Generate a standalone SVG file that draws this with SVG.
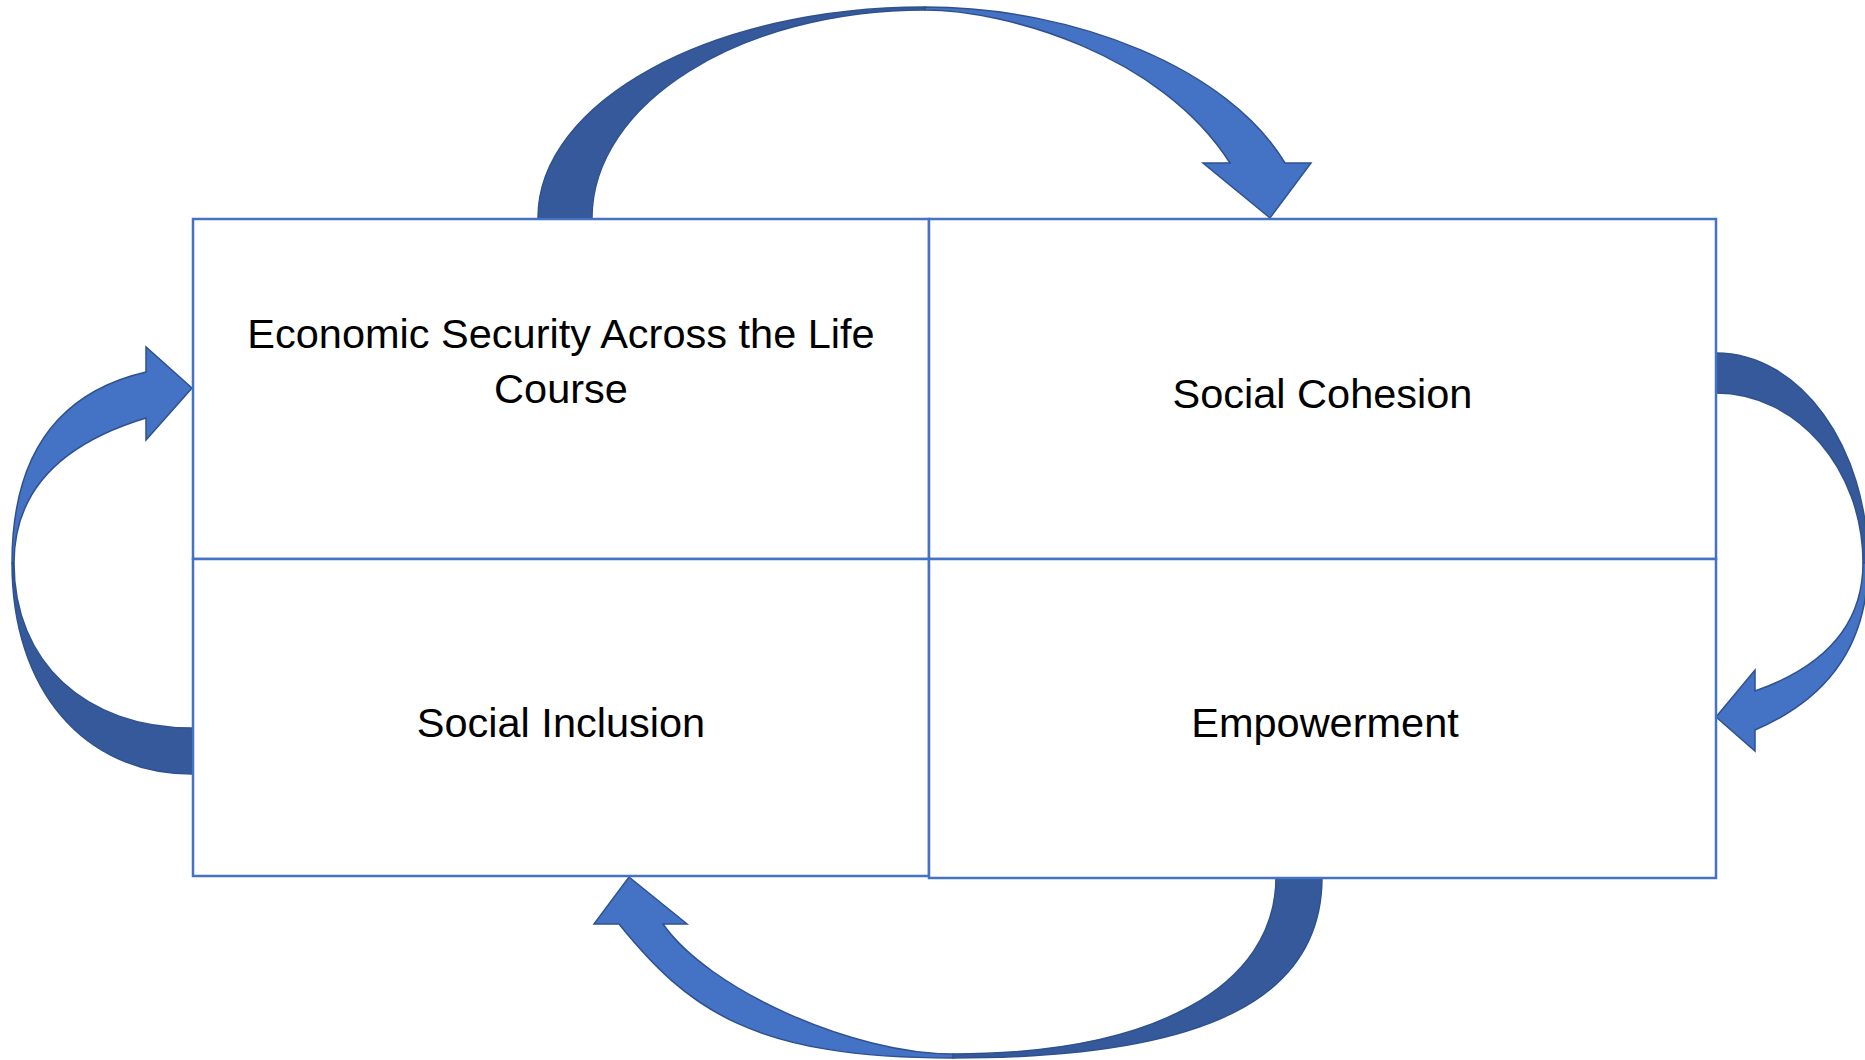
<svg xmlns="http://www.w3.org/2000/svg" width="1865" height="1060" viewBox="0 0 1865 1060">
<style>
.bg{fill:#ffffff}
.box{fill:#ffffff;stroke:#4472C4;stroke-width:2.5}
.dark{fill:#35599A;stroke:#2F528F;stroke-width:1.5;stroke-linejoin:round}
.light{fill:#4472C4;stroke:#2F528F;stroke-width:1.5;stroke-linejoin:miter}
.lbl{font-family:"Liberation Sans",Arial,sans-serif;font-size:41.5px;fill:#000000;text-anchor:middle}
</style>
<rect class="bg" x="0" y="0" width="1865" height="1060"/>
<g id="connectors">
  <g id="arrow-top">
    <path class="dark" d="M538,218 C538,101.5 711,7 925,7 L925,10 C741,10 592,103 592,218 Z"/>
    <path class="light" d="M925,7 C1075,7 1228.5,68.7 1285,163 L1311,163 L1270,218 L1203,163 L1230,163 C1160,53.4 1005,10 925,10 Z"/>
  </g>
  <g id="arrow-right">
    <path class="dark" d="M1716,353 C1800,353 1868,447 1868,563 L1863,563 C1863,469 1797,393 1716,393 Z"/>
    <path class="light" d="M1868,563 Q1868,682 1755,730 L1755,751 L1716,717 L1755,670 L1755,691 Q1863,653 1863,563 Z"/>
  </g>
  <g id="arrow-bottom">
    <path class="dark" d="M1322,877 C1322,1000 1204,1058 953,1058 L953,1054 C1153,1054 1276,987 1276,877 Z"/>
    <path class="light" d="M953,1058 C753,1058 688.3,1009.8 619,924 L594,924 L629,877 L687,924 L663,924 C708.6,989.6 853,1054 953,1054 Z"/>
  </g>
  <g id="arrow-left">
    <path class="dark" d="M192,774 C84,774 12,690 12,563 L14,563 C14,662 85,728 192,728 Z"/>
    <path class="light" d="M12,563 Q12,403 146,372 L146,347 L192,388 L146,440 L146,418 Q14,458 14,563 Z"/>
  </g>
</g>
<g id="node-economic-security">
  <rect class="box" x="193" y="219" width="736" height="340"/>
  <text class="lbl" x="561" y="348">Economic Security Across the Life</text>
  <text class="lbl" x="561" y="403">Course</text>
</g>
<g id="node-social-cohesion">
  <rect class="box" x="929" y="219" width="787" height="340"/>
  <text class="lbl" x="1322.5" y="408">Social Cohesion</text>
</g>
<g id="node-social-inclusion">
  <rect class="box" x="193" y="559" width="736" height="317"/>
  <text class="lbl" x="561" y="737">Social Inclusion</text>
</g>
<g id="node-empowerment">
  <rect class="box" x="929" y="559" width="787" height="319"/>
  <text class="lbl" x="1325" y="737">Empowerment</text>
</g>
</svg>
